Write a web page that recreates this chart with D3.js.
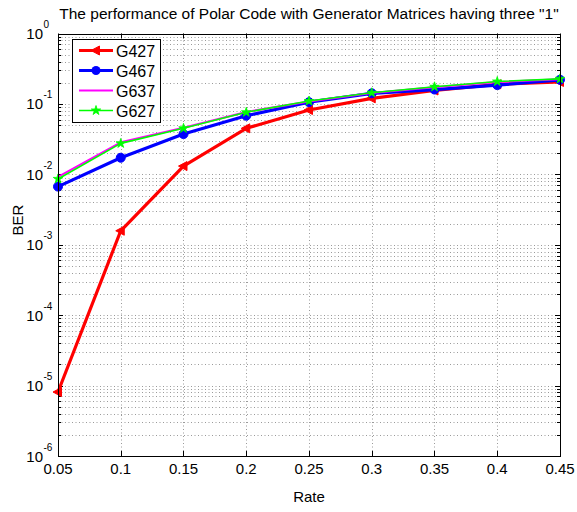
<!DOCTYPE html>
<html>
<head>
<meta charset="utf-8">
<script src="https://cdn.jsdelivr.net/npm/d3@7"></script>
<style>
  html, body { margin: 0; padding: 0; background: #fff; }
  svg { display: block; font-family: "Liberation Sans", Arial, sans-serif; }
</style>
</head>
<body>
<svg id="chart" width="577" height="512"></svg>
<script>
// Code rates on the x axis
const rates = [0.05, 0.1, 0.15, 0.2, 0.25, 0.3, 0.35, 0.4, 0.45];

// Bit error rate for each generator matrix
const berG427 = [8.1e-6, 1.58e-3, 0.0131, 0.045, 0.082, 0.12, 0.155, 0.19, 0.205];
const berG467 = [6.7e-3, 0.0172, 0.0373, 0.068, 0.106, 0.1415, 0.16, 0.185, 0.22];
const berG637 = [9.2e-3, 0.0285, 0.046, 0.077, 0.108, 0.143, 0.172, 0.205, 0.224];
const berG627 = [8.6e-3, 0.0275, 0.045, 0.076, 0.11, 0.144, 0.175, 0.208, 0.227];

// Axis ticks
const xTicks = [0.05, 0.1, 0.15, 0.2, 0.25, 0.3, 0.35, 0.4, 0.45];
const xTickLabels = ["0.05", "0.1", "0.15", "0.2", "0.25", "0.3", "0.35", "0.4", "0.45"];
const yExponents = [0, -1, -2, -3, -4, -5, -6];

const titleText = 'The performance of Polar Code with Generator Matrices having three "1"';
const xLabelText = "Rate";
const yLabelText = "BER";

const series = [
  { name: "G427", values: berG427, color: "#ff0000", width: 3.2, marker: "tri" },
  { name: "G467", values: berG467, color: "#0000ff", width: 3.2, marker: "circle" },
  { name: "G637", values: berG637, color: "#ff00ff", width: 2, marker: null },
  { name: "G627", values: berG627, color: "#00ff00", width: 1.6, marker: "star" }
];

const svg = d3.select("#chart");
const plot = { left: 58, right: 560, top: 33.5, bottom: 456 };

const x = d3.scaleLinear().domain([0.05, 0.45]).range([plot.left, plot.right]);
const y = d3.scaleLog().domain([1e-6, 1]).range([plot.bottom, plot.top]);

// Minor log positions (2..9 within each decade)
const minorVals = [];
for (let e = -6; e < 0; e++) {
  for (let m = 2; m <= 9; m++) minorVals.push(m * Math.pow(10, e));
}
const majorVals = yExponents.map(e => Math.pow(10, e));

const grid = svg.append("g").attr("class", "grid")
  .attr("stroke", "#9a9a9a").attr("stroke-width", 1).attr("stroke-dasharray", "1,2.5");

// Vertical grid at every rate tick
grid.selectAll("line.vx").data(xTicks.slice(1, -1)).join("line")
  .attr("x1", d => Math.round(x(d)) + 0.5).attr("x2", d => Math.round(x(d)) + 0.5)
  .attr("y1", plot.top).attr("y2", plot.bottom);

// Horizontal grid at decades and minor positions
grid.selectAll("line.hy").data(majorVals.concat(minorVals).filter(v => v > 1e-6 && v < 1)).join("line")
  .attr("x1", plot.left).attr("x2", plot.right)
  .attr("y1", d => Math.round(y(d)) + 0.5).attr("y2", d => Math.round(y(d)) + 0.5);

// Axes with inward ticks on all four sides
const axisG = svg.append("g").attr("stroke", "#000").attr("stroke-width", 1);
const majorLen = 5, minorLen = 3;
xTicks.forEach(t => {
  const px = Math.round(x(t)) + 0.5;
  axisG.append("line").attr("x1", px).attr("x2", px).attr("y1", plot.bottom).attr("y2", plot.bottom - majorLen);
  axisG.append("line").attr("x1", px).attr("x2", px).attr("y1", plot.top).attr("y2", plot.top + majorLen);
});
majorVals.forEach(v => {
  const py = Math.round(y(v)) + 0.5;
  axisG.append("line").attr("x1", plot.left).attr("x2", plot.left + majorLen).attr("y1", py).attr("y2", py);
  axisG.append("line").attr("x1", plot.right).attr("x2", plot.right - majorLen).attr("y1", py).attr("y2", py);
});
minorVals.forEach(v => {
  const py = Math.round(y(v)) + 0.5;
  axisG.append("line").attr("x1", plot.left).attr("x2", plot.left + minorLen).attr("y1", py).attr("y2", py);
  axisG.append("line").attr("x1", plot.right).attr("x2", plot.right - minorLen).attr("y1", py).attr("y2", py);
});

// Data lines
const lineGen = d3.line().x((d, i) => x(rates[i])).y(d => y(d));
const starPath = d3.symbol().type(d3.symbolStar).size(28)();
const triPath = "M-5,0L3.5,-4.5L3.5,4.5Z";

const dataG = svg.append("g");
series.forEach(s => {
  const g = dataG.append("g");
  g.append("path").datum(s.values)
    .attr("d", lineGen).attr("fill", "none")
    .attr("stroke", s.color).attr("stroke-width", s.width).attr("stroke-linejoin", "round");
  if (s.marker === "circle") {
    g.selectAll("circle").data(s.values).join("circle")
      .attr("cx", (d, i) => x(rates[i])).attr("cy", d => y(d)).attr("r", 4.5)
      .attr("fill", s.color).attr("stroke", s.color);
  } else if (s.marker === "tri") {
    g.selectAll("path.m").data(s.values).join("path").attr("class", "m")
      .attr("d", triPath)
      .attr("transform", (d, i) => `translate(${x(rates[i])},${y(d)})`)
      .attr("fill", s.color).attr("stroke", s.color).attr("stroke-width", 1);
  } else if (s.marker === "star") {
    g.selectAll("path.m").data(s.values).join("path").attr("class", "m")
      .attr("d", starPath)
      .attr("transform", (d, i) => `translate(${x(rates[i])},${y(d)})`)
      .attr("fill", s.color).attr("stroke", s.color).attr("stroke-width", 0.8);
  }
});

// Plot frame
svg.append("rect")
  .attr("x", plot.left + 0.5).attr("y", Math.round(plot.top) + 0.5)
  .attr("width", plot.right - plot.left).attr("height", Math.round(plot.bottom) - Math.round(plot.top))
  .attr("fill", "none").attr("stroke", "#000").attr("stroke-width", 1);

// Tick labels
svg.append("g").selectAll("text").data(xTicks).join("text")
  .attr("x", d => x(d)).attr("y", plot.bottom + 17.5)
  .attr("text-anchor", "middle").attr("font-size", 15).attr("fill", "#000")
  .text((d, i) => xTickLabels[i]);

const yl = svg.append("g");
yExponents.forEach(e => {
  const py = y(Math.pow(10, e));
  yl.append("text").attr("x", 43).attr("y", py + 5.5)
    .attr("text-anchor", "end").attr("font-size", 15).text("10");
  yl.append("text").attr("x", 43.5).attr("y", py - 5.5)
    .attr("text-anchor", "start").attr("font-size", 10).text(e === 0 ? "0" : "-" + Math.abs(e));
});

// Title and axis labels
svg.append("text").attr("x", (plot.left + plot.right) / 2).attr("y", 19)
  .attr("text-anchor", "middle").attr("font-size", 15.5).text(titleText);
svg.append("text").attr("x", (plot.left + plot.right) / 2).attr("y", 502)
  .attr("text-anchor", "middle").attr("font-size", 15).text(xLabelText);
svg.append("text").attr("transform", "translate(23,220) rotate(-90)")
  .attr("text-anchor", "middle").attr("font-size", 15).text(yLabelText);

// Legend
const legend = svg.append("g");
legend.append("rect").attr("x", 72.5).attr("y", 39.5).attr("width", 88).attr("height", 83)
  .attr("fill", "#fff").attr("stroke", "#000").attr("stroke-width", 1);
const legendY = [50.5, 70.5, 90.5, 110.5];
series.forEach((s, i) => {
  const ly = legendY[i];
  legend.append("line").attr("x1", 79).attr("x2", 113).attr("y1", ly).attr("y2", ly)
    .attr("stroke", s.color).attr("stroke-width", s.width);
  if (s.marker === "circle") {
    legend.append("circle").attr("cx", 96).attr("cy", ly).attr("r", 4.5).attr("fill", s.color);
  } else if (s.marker === "tri") {
    legend.append("path").attr("d", triPath).attr("transform", `translate(96,${ly})`)
      .attr("fill", s.color).attr("stroke", s.color);
  } else if (s.marker === "star") {
    legend.append("path").attr("d", starPath).attr("transform", `translate(96,${ly})`)
      .attr("fill", s.color).attr("stroke", s.color).attr("stroke-width", 0.8);
  }
  legend.append("text").attr("x", 116).attr("y", ly + 6).attr("font-size", 16).text(s.name);
});
</script>
</body>
</html>
